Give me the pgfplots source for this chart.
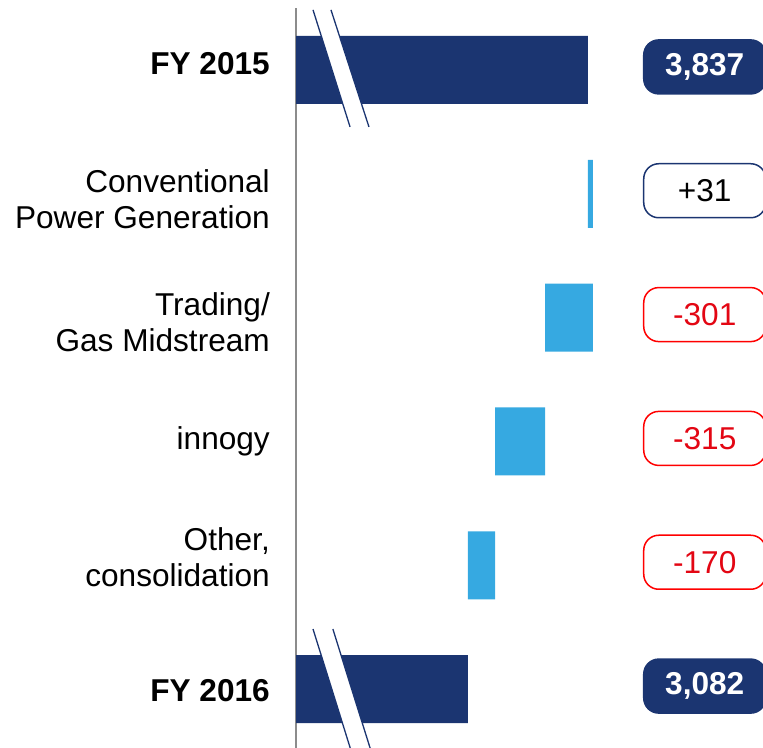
\documentclass[border=0pt]{standalone}
\usepackage{fontspec}
\setmainfont{Liberation Sans}
\usepackage{pgfplots}
\pgfplotsset{compat=1.18}
\definecolor{navy}{HTML}{1B3571}
\definecolor{lblue}{HTML}{36A9E1}
\definecolor{rred}{HTML}{E30613}
\definecolor{bred}{HTML}{FF0000}
\definecolor{agray}{HTML}{8C8C8C}
\newcommand{\lab}[2]{\raisebox{#1}[\height][\depth]{\begin{tabular}{@{}r@{}}#2\end{tabular}}}
\begin{document}
\begin{tikzpicture}[font=\fontsize{31.6}{36}\selectfont,
  vbox/.style={anchor=west, minimum width=122pt, minimum height=54pt, rounded corners=15pt, line width=1.5pt, inner sep=0pt, yshift=3pt},
  totbox/.style={vbox, fill=navy, draw=navy, text=white, font=\fontsize{31.6}{36}\selectfont\bfseries},
  posbox/.style={vbox, fill=white, draw=navy, text=black},
  negbox/.style={vbox, fill=white, draw=bred, text=rred}]
\useasboundingbox (-296pt,4pt) rectangle (467pt,751pt);
\begin{axis}[
  at={(0pt,0pt)}, anchor=south west,
  scale only axis, width=467pt, height=743pt,
  xbar stacked, bar width=68pt,
  xmin=2000, xmax=4938, ymin=-0.5, ymax=5.5, y dir=reverse,
  axis x line=none, axis y line*=left,
  y axis line style={-, agray, line width=2pt},
  ytick={0,1,2,3,4,5}, major tick length=0pt,
  yticklabels={{\lab{3pt}{\textbf{FY 2015}}},{\lab{-10pt}{Conventional\\Power Generation}},{\lab{-9pt}{Trading/\\Gas Midstream}},{\lab{-1pt}{innogy}},{\lab{4pt}{Other,\\consolidation}},{\lab{-5pt}{\textbf{FY 2016}}}},
  yticklabel style={anchor=east, inner sep=0pt, xshift=-26pt},
]
% invisible base
\addplot[draw=none, fill=none] coordinates {(0,0) (3837,1) (3567,2) (3252,3) (3082,4) (0,5)};
% totals
\addplot[draw=none, fill=navy] coordinates {(3837,0) (0,1) (0,2) (0,3) (0,4) (3082,5)};
% deltas
\addplot[draw=none, fill=lblue] coordinates {(0,0) (31,1) (301,2) (315,3) (170,4) (0,5)};
% break-mark anchor points
\coordinate (a1) at (axis cs:2107,-0.485);
\coordinate (a2) at (axis cs:2220,-0.485);
\coordinate (a3) at (axis cs:2459,0.46);
\coordinate (a4) at (axis cs:2340,0.46);
\coordinate (b1) at (axis cs:2107,4.515);
\coordinate (b2) at (axis cs:2232,4.515);
\coordinate (b3) at (axis cs:2472,5.5);
\coordinate (b4) at (axis cs:2347,5.5);
% value box anchors
\coordinate (v0) at (axis cs:4183,0);
\coordinate (v1) at (axis cs:4183,1);
\coordinate (v2) at (axis cs:4183,2);
\coordinate (v3) at (axis cs:4183,3);
\coordinate (v4) at (axis cs:4183,4);
\coordinate (v5) at (axis cs:4183,5);
\end{axis}
\fill[white] (a1) -- (a2) -- (a3) -- (a4) -- cycle;
\draw[navy, line width=1.3pt] (a1) -- (a4) (a2) -- (a3);
\fill[white] (b1) -- (b2) -- (b3) -- (b4) -- cycle;
\draw[navy, line width=1.3pt] (b1) -- (b4) (b2) -- (b3);
\node[totbox] at (v0) {3,837\hspace{8pt}};
\node[posbox] at (v1) {+31\hspace{8pt}};
\node[negbox] at (v2) {-301\hspace{8pt}};
\node[negbox] at (v3) {-315\hspace{8pt}};
\node[negbox] at (v4) {-170\hspace{8pt}};
\node[totbox] at (v5) {3,082\hspace{8pt}};
\end{tikzpicture}
\end{document}
